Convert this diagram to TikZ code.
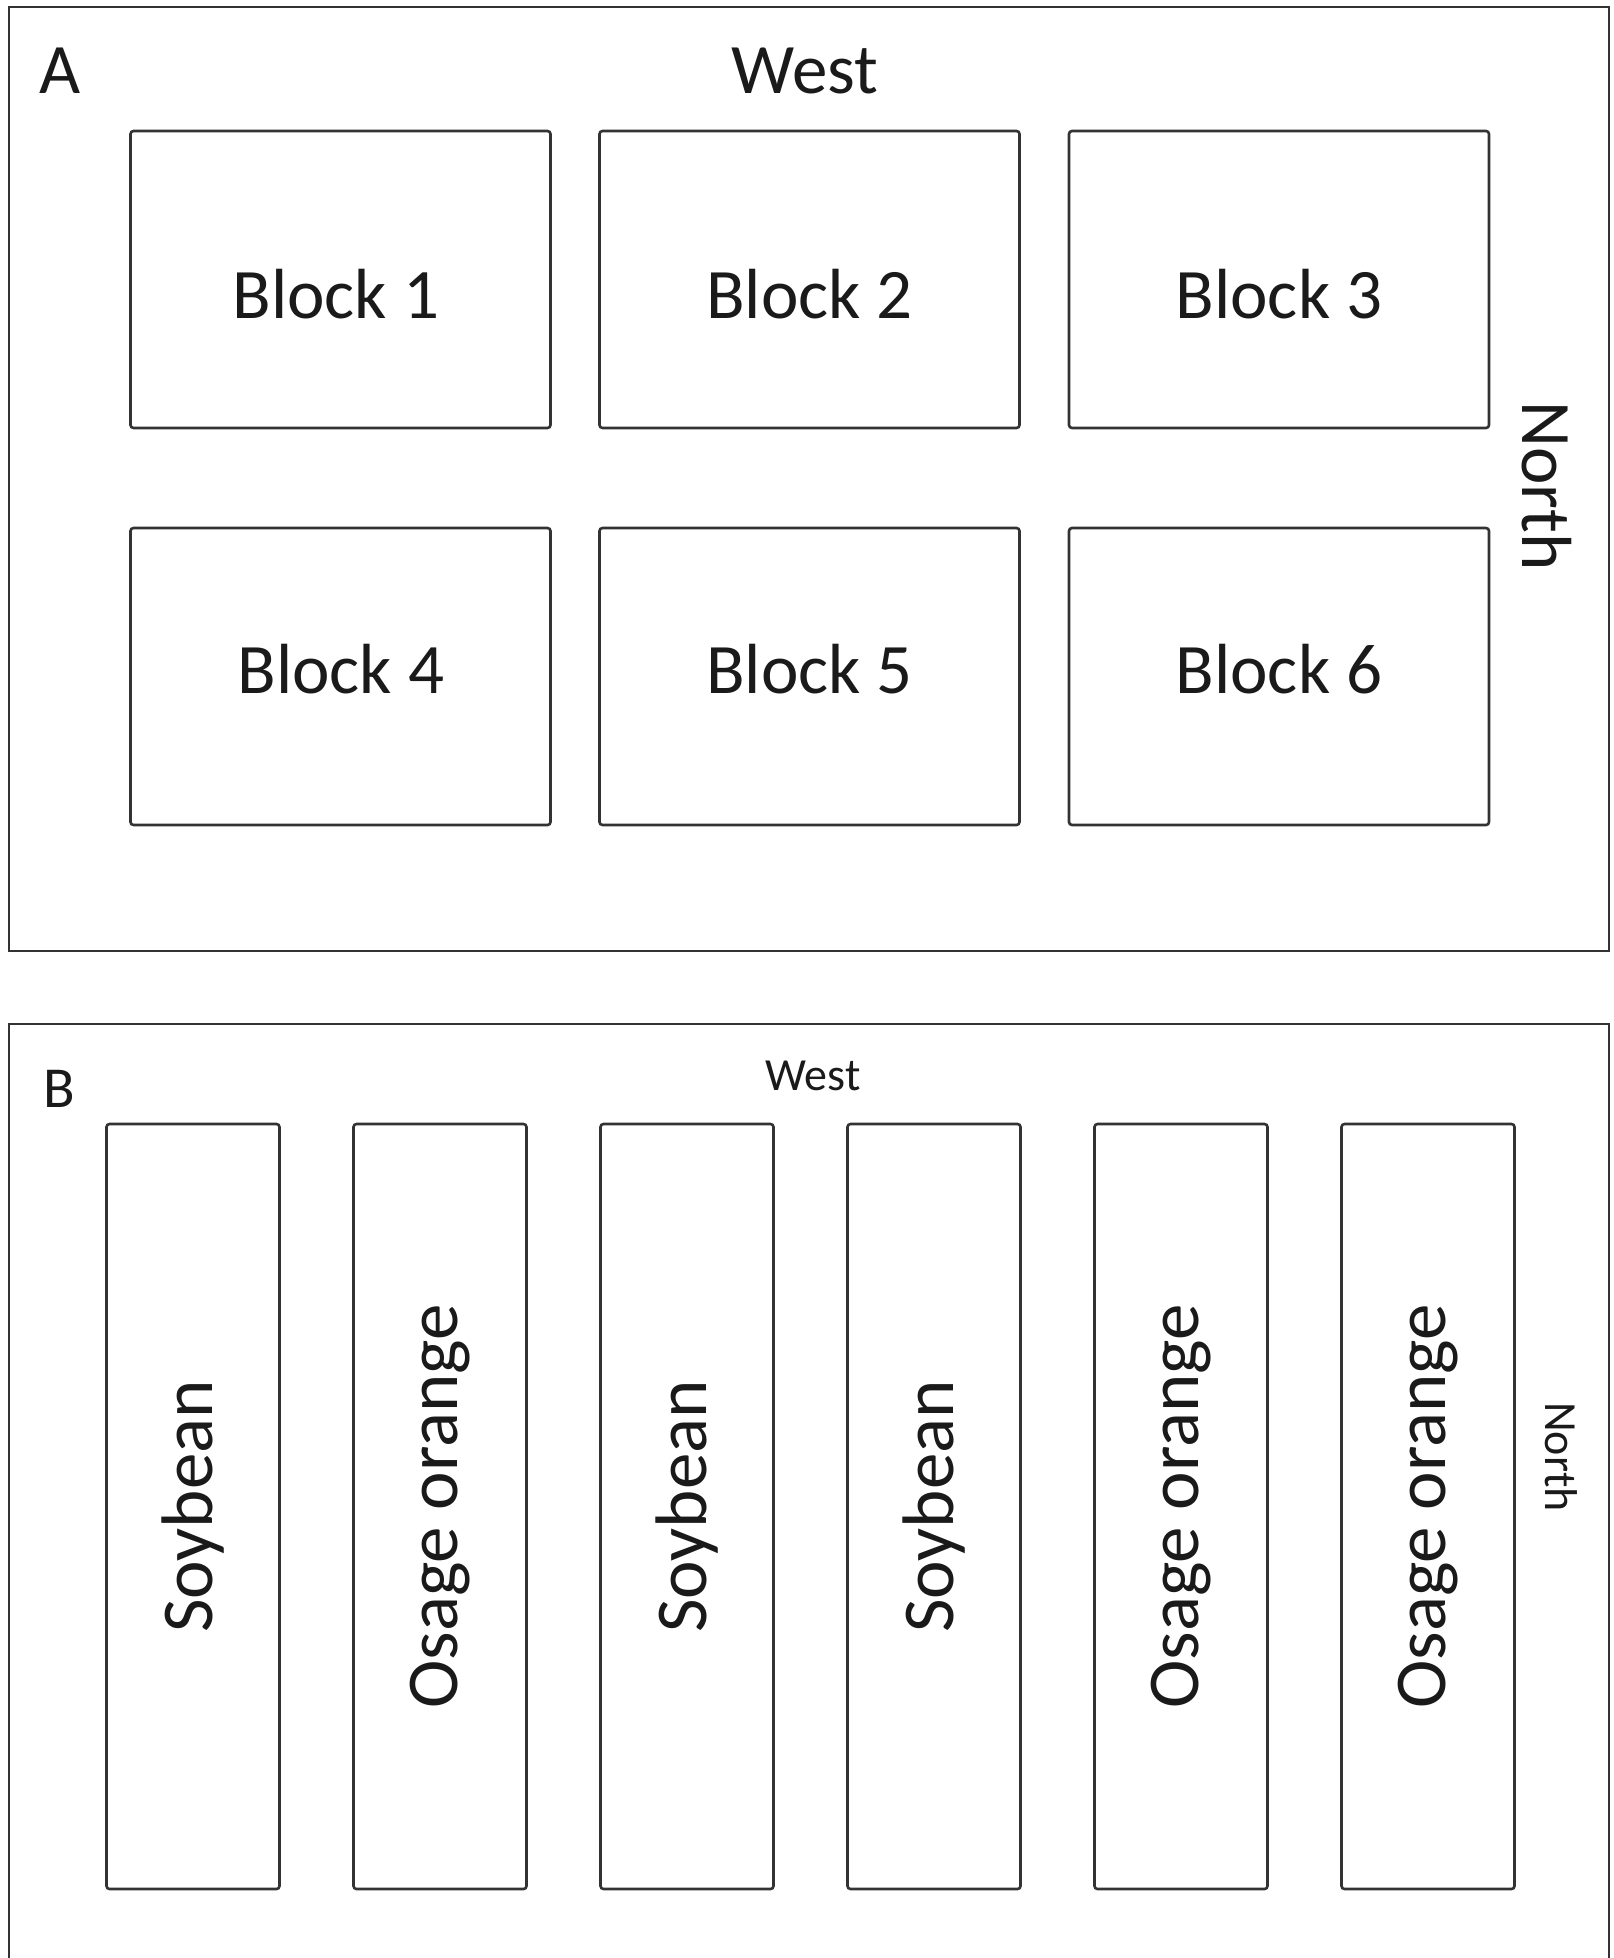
\documentclass[tikz,border=0pt]{standalone}
\usepackage{fontspec}
\setmainfont{Carlito}
\definecolor{linegray}{HTML}{333333}
\definecolor{txtgray}{HTML}{1A1A1A}
\begin{document}
\begin{tikzpicture}[x=1pt,y=-1pt,
  frame/.style={draw=linegray, line width=2.6pt},
  plotbox/.style={draw=linegray, line width=2.6pt, rounded corners=3pt, inner sep=0pt},
  blockbox/.style={plotbox, minimum width=420pt, minimum height=297pt},
  stripbox/.style={plotbox, minimum width=173pt, minimum height=765pt},
  bigtext/.style={font=\fontsize{71}{85}\selectfont, text=txtgray, inner sep=0pt},
  striptext/.style={font=\fontsize{73}{88}\selectfont, text=txtgray, inner sep=0pt, rotate=90},
  midtext/.style={font=\fontsize{58}{70}\selectfont, text=txtgray, inner sep=0pt},
  smalltext/.style={font=\fontsize{46}{55}\selectfont, text=txtgray, inner sep=0pt}]
\useasboundingbox (0,0) rectangle (1613,1958);
\fill[white] (0,0) rectangle (1613,1958);

% Panel A
\draw[frame] (9,7) rectangle (1609,951);
\node[bigtext, anchor=base] (labA) at (60,94) {A};
\node[bigtext, anchor=base] (westA) at (805,94) {West};
\node[bigtext, rotate=-90] (northA) at (1547,486) {North};

\node[blockbox] (b1) at (340.5,279.5) {};
\node[blockbox] (b2) at (809.5,279.5) {};
\node[blockbox] (b3) at (1279,279.5) {};
\node[blockbox] (b4) at (340.5,676.5) {};
\node[blockbox] (b5) at (809.5,676.5) {};
\node[blockbox] (b6) at (1279,676.5) {};
\node[bigtext] (t1) at (336,294) {Block 1};
\node[bigtext] (t2) at (809.5,294) {Block 2};
\node[bigtext] (t3) at (1279,294) {Block 3};
\node[bigtext] (t4) at (341,669) {Block 4};
\node[bigtext] (t5) at (809.5,669) {Block 5};
\node[bigtext] (t6) at (1279,669) {Block 6};

% Panel B
\draw[frame] (9,1965) -- (9,1024) -- (1609,1024) -- (1609,1965);
\node[midtext, anchor=base] (labB) at (59,1107) {B};
\node[smalltext, anchor=base] (westB) at (813,1090) {West};
\node[smalltext, rotate=-90] (northB) at (1561,1457) {North};

\node[stripbox] (s1) at (193,1506.5) {};
\node[stripbox] (s2) at (440,1506.5) {};
\node[stripbox] (s3) at (687,1506.5) {};
\node[stripbox] (s4) at (934,1506.5) {};
\node[stripbox] (s5) at (1181,1506.5) {};
\node[stripbox] (s6) at (1428,1506.5) {};
\node[striptext] (l1) at (s1.center) {Soybean};
\node[striptext] (l2) at (s2.center) {Osage orange};
\node[striptext] (l3) at (s3.center) {Soybean};
\node[striptext] (l4) at (s4.center) {Soybean};
\node[striptext] (l5) at (s5.center) {Osage orange};
\node[striptext] (l6) at (s6.center) {Osage orange};
\end{tikzpicture}
\end{document}
